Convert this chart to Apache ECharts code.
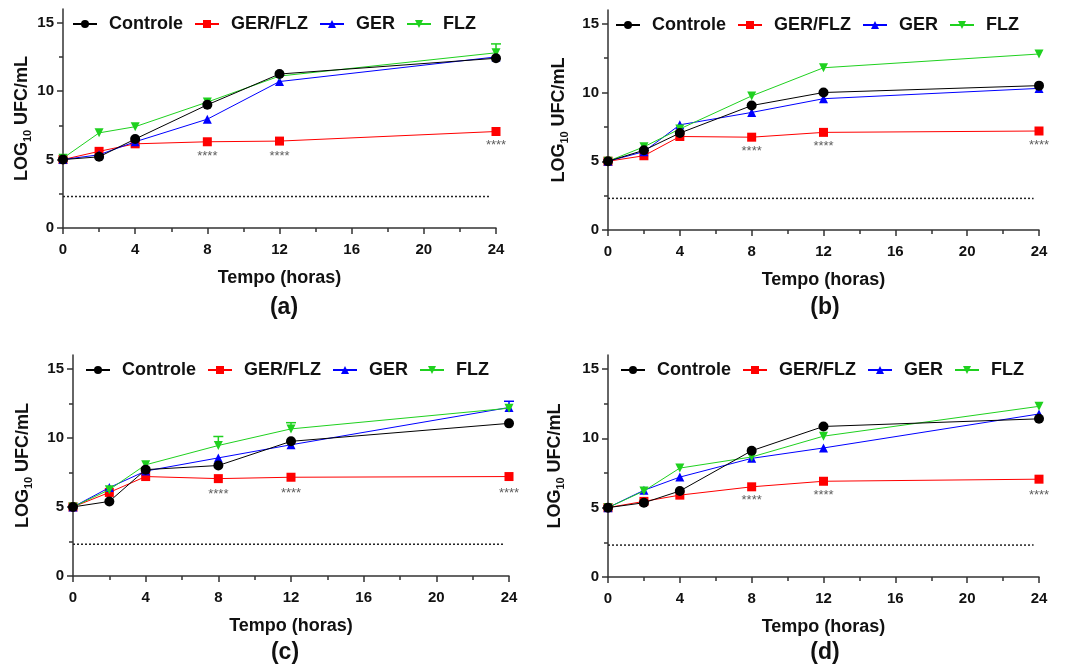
<!DOCTYPE html>
<html>
<head>
<meta charset="utf-8">
<script src="https://cdn.jsdelivr.net/npm/echarts@6/dist/echarts.min.js"></script>
<style>
  html, body { margin: 0; padding: 0; background: #fff; }
  #chart { width: 1065px; height: 666px; }
</style>
</head>
<body>
<div id="chart"></div>
<script>
// horas de amostragem
const hours = [0, 2, 4, 8, 12, 24]
const seriesNames = ['Controle', 'GER/FLZ', 'GER', 'FLZ']
const panelLabels = ['(a)', '(b)', '(c)', '(d)']
const yTicks = [0, 5, 10, 15]
const yMinorTicks = [2.5, 7.5, 12.5]

// (a)
const controleA = [5.0, 5.2, 6.5, 9.0, 11.25, 12.4]
const gerFlzA = [5.0, 5.6, 6.15, 6.3, 6.35, 7.05]
const gerA = [5.0, 5.35, 6.3, 7.95, 10.7, 12.5]
const flzA = [5.1, 6.95, 7.4, 9.2, 11.1, 12.8]
// (b)
const controleB = [5.0, 5.8, 7.05, 9.05, 10.0, 10.5]
const gerFlzB = [5.0, 5.4, 6.8, 6.75, 7.1, 7.2]
const gerB = [5.0, 5.7, 7.65, 8.55, 9.55, 10.3]
const flzB = [5.0, 6.05, 7.35, 9.75, 11.8, 12.8]
// (c)
const controleC = [5.0, 5.4, 7.7, 8.0, 9.75, 11.05]
const gerFlzC = [5.0, 6.05, 7.2, 7.05, 7.15, 7.2]
const gerC = [5.0, 6.4, 7.6, 8.55, 9.5, 12.2]
const flzC = [5.0, 6.25, 8.05, 9.45, 10.65, 12.15]
// (d)
const controleD = [5.0, 5.35, 6.2, 9.1, 10.85, 11.4]
const gerFlzD = [5.0, 5.45, 5.9, 6.5, 6.9, 7.05]
const gerD = [5.0, 6.25, 7.2, 8.55, 9.3, 11.75]
const flzD = [5.0, 6.2, 7.85, 8.65, 10.15, 12.3]

// significancia (****)
const starHours = [8, 12, 24]
const starsA = [5.25, 5.25, 6.0]
const starsB = [5.75, 6.05, 6.15]
const starsC = [5.9, 5.95, 6.0]
const starsD = [5.5, 5.85, 5.9]

// barras de erro [hora, media, topo]
const errFlzA = [[24, 12.8, 13.45]]
const errGerC = [[24, 12.2, 12.65]]
const errFlzC = [[8, 9.45, 10.1], [12, 10.65, 11.1]]

// limite de detecção
const limitValue = 2.3
const limitEnd = 23.7

const FONT = 'Liberation Sans, Arial, sans-serif'
const COLORS = ['#000000', '#ff0000', '#0000ff', '#1fd11f']
const SYMBOLS = ['circle', 'rect', 'triangle', 'triangle']
const ROTATE = [0, 0, 0, 180]
const SIZES = [10, 9, 9, 9]

const panels = [
  { data: [controleA, gerFlzA, gerA, flzA], stars: starsA, err: [[], [], [], errFlzA],
    grid: { left: 63, top: 9, width: 433, height: 219 }, legend: { left: 72, top: 15 },
    yGap: 29, label: [284, 308] },
  { data: [controleB, gerFlzB, gerB, flzB], stars: starsB, err: [[], [], [], []],
    grid: { left: 608, top: 10, width: 431, height: 220 }, legend: { left: 615, top: 16 },
    yGap: 38, label: [825, 308] },
  { data: [controleC, gerFlzC, gerC, flzC], stars: starsC, err: [[], [], errGerC, errFlzC],
    grid: { left: 73, top: 355, width: 436, height: 221 }, legend: { left: 85, top: 361 },
    yGap: 39, label: [285, 653] },
  { data: [controleD, gerFlzD, gerD, flzD], stars: starsD, err: [[], [], [], []],
    grid: { left: 608, top: 355, width: 431, height: 222 }, legend: { left: 620, top: 361 },
    yGap: 42, label: [825, 653] }
]

const axisColor = '#333'
const grids = []
const xAxes = []
const yAxes = []
const legends = []
const series = []
const graphics = []

panels.forEach((p, i) => {
  grids.push(Object.assign({ containLabel: false }, p.grid))
  xAxes.push({
    type: 'value',
    gridIndex: i,
    min: 0,
    max: 24,
    interval: 4,
    name: 'Tempo (horas)',
    nameLocation: 'middle',
    nameGap: 41,
    nameTextStyle: { fontFamily: FONT, fontSize: 18, fontWeight: 'bold', color: '#111' },
    axisLine: { lineStyle: { color: axisColor, width: 1.5 } },
    axisTick: { length: 6, lineStyle: { color: axisColor, width: 1.5 } },
    minorTick: { show: true, splitNumber: 2, length: 4, lineStyle: { color: axisColor, width: 1.5 } },
    axisLabel: { fontFamily: FONT, fontSize: 15, fontWeight: 'bold', color: '#111', margin: 14 },
    splitLine: { show: false }
  })
  // eixo principal
  yAxes.push({
    type: 'value',
    gridIndex: i,
    min: 0,
    max: 16,
    interval: 5,
    position: 'left',
    name: '{a|LOG}{b|10}{a| UFC/mL}',
    nameLocation: 'middle',
    nameGap: p.yGap,
    nameTextStyle: {
      rich: {
        a: { fontFamily: FONT, fontSize: 18, fontWeight: 'bold', color: '#111', lineHeight: 22 },
        b: { fontFamily: FONT, fontSize: 11, fontWeight: 'bold', color: '#111', verticalAlign: 'bottom', lineHeight: 18 }
      }
    },
    axisLine: { show: true, lineStyle: { color: axisColor, width: 1.5 } },
    axisTick: { show: true, length: 6, customValues: yTicks, lineStyle: { color: axisColor, width: 1.5 } },
    axisLabel: { fontFamily: FONT, fontSize: 15, fontWeight: 'bold', color: '#111', margin: 9, customValues: yTicks },
    splitLine: { show: false }
  })
  // marcas menores
  yAxes.push({
    type: 'value',
    gridIndex: i,
    min: 0,
    max: 16,
    position: 'left',
    axisLine: { show: false },
    axisTick: { show: true, length: 4, customValues: yMinorTicks, lineStyle: { color: axisColor, width: 1.5 } },
    axisLabel: { show: false },
    splitLine: { show: false }
  })
  legends.push({
    data: seriesNames,
    left: p.legend.left,
    top: p.legend.top,
    padding: 0,
    itemWidth: 24,
    itemHeight: 10,
    itemGap: 11,
    selectedMode: false,
    textStyle: { fontFamily: FONT, fontSize: 18, fontWeight: 'bold', color: '#111', padding: [0, 0, 0, 7] }
  })

  // limite de detecção
  series.push({
    type: 'line',
    xAxisIndex: i,
    yAxisIndex: i * 2,
    data: [[0, limitValue], [limitEnd, limitValue]],
    showSymbol: false,
    silent: true,
    lineStyle: { color: '#222', width: 1.5, type: [2, 2] },
    z: 1
  })

  seriesNames.forEach((name, k) => {
    series.push({
      name: name,
      type: 'line',
      xAxisIndex: i,
      yAxisIndex: i * 2,
      data: hours.map((h, j) => [h, p.data[k][j]]),
      symbol: SYMBOLS[k],
      symbolRotate: ROTATE[k],
      symbolSize: SIZES[k],
      itemStyle: { color: COLORS[k] },
      lineStyle: { color: COLORS[k], width: 1 },
      z: k === 0 ? 6 : 3 + k * 0.1
    })
    if (p.err[k].length) {
      series.push({
        type: 'custom',
        xAxisIndex: i,
        yAxisIndex: i * 2,
        data: p.err[k],
        silent: true,
        z: 2,
        renderItem: function (params, api) {
          const base = api.coord([api.value(0), api.value(1)])
          const top = api.coord([api.value(0), api.value(2)])
          const st = { stroke: COLORS[k], lineWidth: 1.5 }
          return {
            type: 'group',
            children: [
              { type: 'line', shape: { x1: base[0], y1: base[1], x2: top[0], y2: top[1] }, style: st },
              { type: 'line', shape: { x1: top[0] - 5, y1: top[1], x2: top[0] + 5, y2: top[1] }, style: st }
            ]
          }
        }
      })
    }
  })

  // ****
  series.push({
    type: 'scatter',
    xAxisIndex: i,
    yAxisIndex: i * 2,
    data: starHours.map((h, j) => [h, p.stars[j]]),
    symbolSize: 0,
    silent: true,
    label: {
      show: true,
      position: 'inside',
      formatter: '****',
      fontFamily: FONT,
      fontSize: 13,
      color: '#333'
    }
  })

  graphics.push({
    type: 'text',
    x: p.label[0],
    y: p.label[1],
    style: {
      text: panelLabels[i],
      font: 'bold 23px ' + FONT,
      fill: '#111',
      textAlign: 'center',
      textVerticalAlign: 'middle'
    }
  })
})

const chart = echarts.init(document.getElementById('chart'))
chart.setOption({
  backgroundColor: '#fff',
  animation: false,
  grid: grids,
  xAxis: xAxes,
  yAxis: yAxes,
  legend: legends,
  series: series,
  graphic: graphics
})
</script>
</body>
</html>
